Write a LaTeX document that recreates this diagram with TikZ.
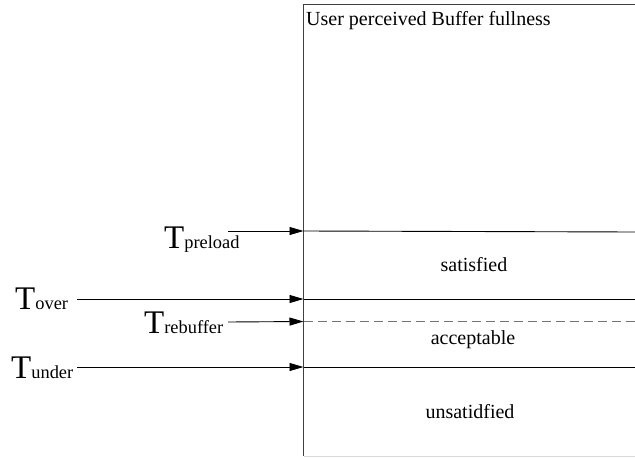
\documentclass[tikz,border=0pt]{standalone}
\usepackage{fontspec}
\setmainfont{Liberation Serif}
\usetikzlibrary{arrows.meta}
\newcommand{\subsz}{\fontsize{18.4}{20}\selectfont}
\begin{document}
\begin{tikzpicture}[x=1pt,y=-1pt,
  boxline/.style={draw=black!75,line width=1.2pt},
  level/.style={draw=black,line width=0.9pt},
  dashlevel/.style={draw=black!55,line width=0.9pt,dash pattern=on 9pt off 5pt},
  arr/.style={draw=black,line width=0.9pt,-{Triangle[length=14pt,width=8pt]}},
  tlabel/.style={inner sep=0pt,font=\fontsize{33}{35}\selectfont},
  zone/.style={inner sep=0pt,font=\fontsize{20}{23}\selectfont}]
\useasboundingbox (0,0) rectangle (635,458);
% box
\coordinate (tl) at (303.5,4.5);
\coordinate (tr) at (635,4.5);
\coordinate (bl) at (303.5,456);
\coordinate (br) at (635,456);
\draw[boxline] (tr) -- (tl) -- (bl);
\draw[draw=black!15,line width=1pt] (bl) -- (br);
\node[zone,anchor=west] (title) at (306,21) {User perceived Buffer fullness};
% level coordinates
\coordinate (pL) at (303.5,231); \coordinate (pR) at (635,232);
\coordinate (oL) at (303.5,299); \coordinate (oR) at (635,299);
\coordinate (rL) at (303.5,321.5); \coordinate (rR) at (635,321.5);
\coordinate (uL) at (303.5,367); \coordinate (uR) at (635,367);
\draw[level] (pL) -- (pR);
\draw[level] (oL) -- (oR);
\draw[dashlevel] (rL) -- (rR);
\draw[level] (uL) -- (uR);
% labels
\node[tlabel,anchor=base west] (tp) at (164,248) {T{\subsz preload}};
\node[tlabel,anchor=base west] (to) at (15,309) {T{\subsz over}};
\node[tlabel,anchor=base west] (trb) at (144,333) {T{\subsz rebuffer}};
\node[tlabel,anchor=base west] (tu) at (11,378) {T{\subsz under}};
% arrows
\coordinate (ps) at (228,231);
\coordinate (os) at (77,299);
\coordinate (rs) at (228,322);
\coordinate (us) at (77,367);
\draw[arr] (ps) -- (pL);
\draw[arr] (os) -- (oL);
\draw[arr] (rs) -- (rL);
\draw[arr] (us) -- (uL);
% zones
\node[zone] (sat) at (474,265) {satisfied};
\node[zone] (acc) at (473,340) {acceptable};
\node[zone] (uns) at (470,412) {unsatidfied};
\end{tikzpicture}
\end{document}
